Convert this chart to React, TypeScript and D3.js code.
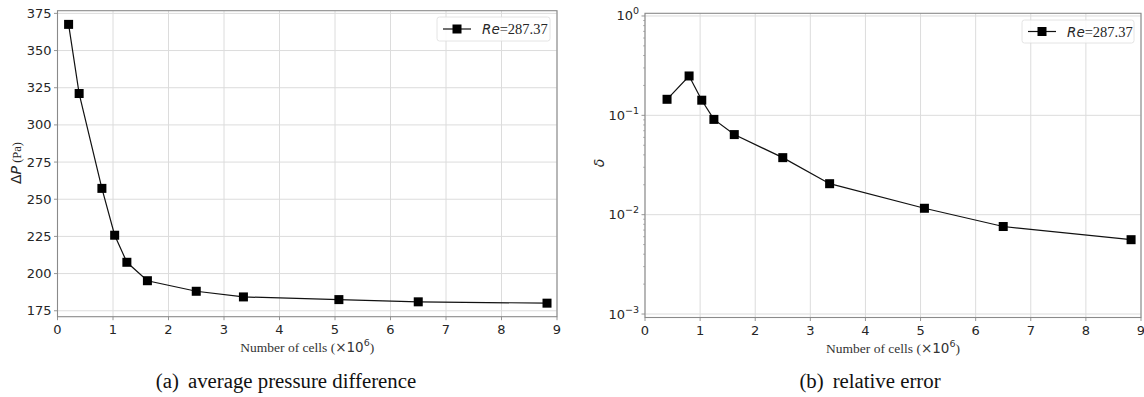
import { useEffect, useRef } from 'react'
import * as d3 from 'd3'

// mesh sizes (×10^6 cells) and results
const cellsA = [0.2, 0.39, 0.8, 1.03, 1.25, 1.62, 2.5, 3.35, 5.07, 6.5, 8.82]
const deltaP = [367.6, 321.1, 257.3, 225.8, 207.6, 195.2, 188.1, 184.3, 182.5, 181.0, 180.1]
const cellsB = [0.4, 0.8, 1.03, 1.25, 1.62, 2.5, 3.35, 5.07, 6.5, 8.82]
const relErr = [0.145, 0.249, 0.142, 0.091, 0.064, 0.0375, 0.0205, 0.0116, 0.0076, 0.0056]

const xTicks = [0, 1, 2, 3, 4, 5, 6, 7, 8, 9]
const yTicksA = [175, 200, 225, 250, 275, 300, 325, 350, 375]
const yTicksB = [1e-3, 1e-2, 1e-1, 1]
const legendLabel = { italic: 'Re', rest: '=287.37' }
const captions = [['(a)', 'average pressure difference'], ['(b)', 'relative error']]

const SANS = '"DejaVu Sans", sans-serif'
const SERIF = '"Liberation Serif", "Times New Roman", serif'
const GRID = '#dcdcdc'
const SPINE = '#8a8a8a'
const TXT = '#262626'

export default function App() {
  const svgRef = useRef<SVGSVGElement>(null)

  useEffect(() => {
    if (!svgRef.current) return
    const svg = d3.select(svgRef.current)
    svg.selectAll('*').remove()

    type Panel = {
      left: number; right: number; top: number; bottom: number
      y: any; log: boolean; xs: number[]; ys: number[]; ticks: number[]
      legend: { x: number; y: number; w: number; h: number }
      ylab: { x: number; y: number }
      caption: string[]; capX: number
    }

    const panels: Panel[] = [
      {
        left: 57.5, right: 557, top: 10.7, bottom: 316.7,
        y: d3.scaleLinear().domain([171, 376.8]).range([316.7, 10.7]),
        log: false, xs: cellsA, ys: deltaP, ticks: yTicksA,
        legend: { x: 437, y: 17, w: 113, h: 24 },
        ylab: { x: 21, y: 163 },
        caption: captions[0], capX: 286,
      },
      {
        left: 645, right: 1141, top: 13.3, bottom: 317.5,
        y: d3.scaleLog().domain([Math.pow(10, -3.035), Math.pow(10, 0.027)]).range([317.5, 13.3]),
        log: true, xs: cellsB, ys: relErr, ticks: yTicksB,
        legend: { x: 1022, y: 20, w: 112, h: 23 },
        ylab: { x: 604, y: 163 },
        caption: captions[1], capX: 870,
      },
    ]

    panels.forEach(p => {
      const g = svg.append('g')
      const x = d3.scaleLinear().domain([0, 9]).range([p.left, p.right])
      const y = p.y

      // grid
      xTicks.forEach(t => {
        g.append('line')
          .attr('x1', x(t)).attr('x2', x(t)).attr('y1', p.top).attr('y2', p.bottom)
          .attr('stroke', GRID).attr('stroke-width', 1)
      })
      p.ticks.forEach(t => {
        g.append('line')
          .attr('x1', p.left).attr('x2', p.right).attr('y1', y(t)).attr('y2', y(t))
          .attr('stroke', GRID).attr('stroke-width', 1)
      })

      // minor log ticks
      if (p.log) {
        const minors: number[] = []
        for (let e = -4; e <= 0; e++) for (let m = 2; m <= 9; m++) minors.push(m * Math.pow(10, e))
        minors.filter(v => v > y.domain()[0] && v < y.domain()[1]).forEach(v => {
          g.append('line')
            .attr('x1', p.left - 2).attr('x2', p.left).attr('y1', y(v)).attr('y2', y(v))
            .attr('stroke', SPINE).attr('stroke-width', 0.6)
        })
      }

      // spines
      g.append('rect')
        .attr('x', p.left).attr('y', p.top)
        .attr('width', p.right - p.left).attr('height', p.bottom - p.top)
        .attr('fill', 'none').attr('stroke', SPINE).attr('stroke-width', 1.1)

      // x ticks + labels
      xTicks.forEach(t => {
        g.append('line')
          .attr('x1', x(t)).attr('x2', x(t)).attr('y1', p.bottom).attr('y2', p.bottom + 3.5)
          .attr('stroke', SPINE).attr('stroke-width', 0.9)
        g.append('text')
          .attr('x', x(t)).attr('y', p.bottom + 17)
          .attr('text-anchor', 'middle').attr('font-family', SANS).attr('font-size', 13)
          .attr('fill', TXT).text(t)
      })

      // y ticks + labels
      p.ticks.forEach(t => {
        g.append('line')
          .attr('x1', p.left - 3.5).attr('x2', p.left).attr('y1', y(t)).attr('y2', y(t))
          .attr('stroke', SPINE).attr('stroke-width', 0.9)
        const lbl = g.append('text')
          .attr('x', p.left - 6).attr('y', y(t) + 4.5)
          .attr('text-anchor', 'end').attr('font-family', SANS).attr('font-size', 13)
          .attr('fill', TXT)
        if (p.log) {
          const e = Math.round(Math.log10(t))
          lbl.append('tspan').text('10')
          lbl.append('tspan').attr('dy', -6).attr('font-size', 9.5)
            .text(e === 0 ? '0' : `\u2212${-e}`)
        } else {
          lbl.text(t)
        }
      })

      // line + markers
      const pts = p.xs.map((v, i) => [x(v), y(p.ys[i])] as [number, number])
      g.append('path')
        .attr('d', d3.line()(pts))
        .attr('fill', 'none').attr('stroke', '#111').attr('stroke-width', 1.2)
      pts.forEach(([px, py]) => {
        g.append('rect')
          .attr('x', px - 4.5).attr('y', py - 4.5).attr('width', 9).attr('height', 9)
          .attr('fill', '#000')
      })

      // legend
      const L = p.legend
      g.append('rect')
        .attr('x', L.x).attr('y', L.y).attr('width', L.w).attr('height', L.h)
        .attr('rx', 2.5).attr('fill', 'rgba(255,255,255,0.85)')
        .attr('stroke', '#dddddd').attr('stroke-width', 0.8)
      const cy = L.y + L.h / 2
      g.append('line')
        .attr('x1', L.x + 6).attr('x2', L.x + 34).attr('y1', cy).attr('y2', cy)
        .attr('stroke', '#111').attr('stroke-width', 1.2)
      g.append('rect')
        .attr('x', L.x + 20 - 4.5).attr('y', cy - 4.5).attr('width', 9).attr('height', 9)
        .attr('fill', '#000')
      const lt = g.append('text')
        .attr('x', L.x + 45).attr('y', cy + 5)
        .attr('fill', TXT)
      lt.append('tspan').attr('font-family', SANS).attr('font-style', 'italic')
        .attr('font-size', 13.5).text(legendLabel.italic)
      lt.append('tspan').attr('font-family', SERIF).attr('font-size', 14.5).text(legendLabel.rest)

      // y label
      const yl = g.append('text')
        .attr('transform', `translate(${p.ylab.x},${p.ylab.y}) rotate(-90)`)
        .attr('text-anchor', 'middle').attr('fill', TXT)
      if (p.log) {
        yl.append('tspan').attr('font-family', SANS).attr('font-style', 'italic')
          .attr('font-size', 14).text('δ')
      } else {
        yl.append('tspan').attr('font-family', SANS).attr('font-size', 14).text('Δ')
        yl.append('tspan').attr('font-family', SANS).attr('font-style', 'italic')
          .attr('font-size', 14).text('P')
        yl.append('tspan').attr('font-family', SERIF).attr('font-size', 12.5).text(' (Pa)')
      }

      // x label
      const cx = (p.left + p.right) / 2
      const xl = g.append('text')
        .attr('x', cx).attr('y', p.bottom + 35)
        .attr('text-anchor', 'middle').attr('fill', '#333')
      xl.append('tspan').attr('font-family', SERIF).attr('font-size', 13.5).text('Number of cells (')
      xl.append('tspan').attr('font-family', SANS).attr('font-size', 13.5).text('×10')
      xl.append('tspan').attr('font-family', SANS).attr('font-size', 9.5).attr('dy', -6).text('6')
      xl.append('tspan').attr('font-family', SERIF).attr('font-size', 13.5).attr('dy', 6).text(')')

      // caption
      const cap = g.append('text')
        .attr('x', p.capX).attr('y', 388)
        .attr('text-anchor', 'middle').attr('font-family', SERIF).attr('font-size', 20.8)
        .attr('fill', '#111')
      cap.append('tspan').text(p.caption[0])
      cap.append('tspan').attr('dx', 9).text(p.caption[1])
    })
  }, [])

  return (
    <div style={{ position: 'absolute', left: 0, top: 0 }}>
      <svg ref={svgRef} width={1144} height={397} style={{ display: 'block', background: '#fff' }} />
    </div>
  )
}
